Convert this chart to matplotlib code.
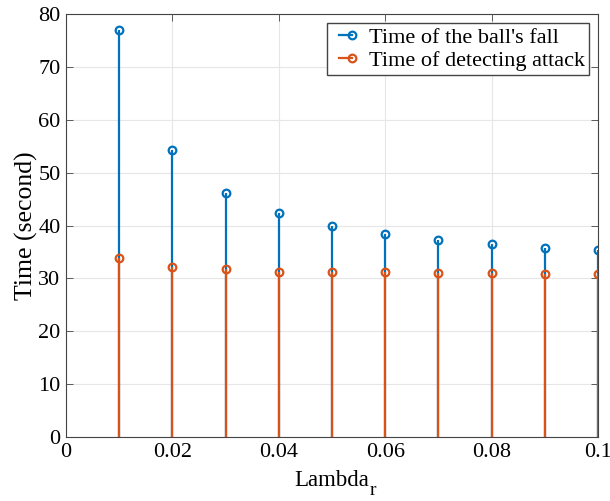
import matplotlib
matplotlib.use('Agg')
import matplotlib.pyplot as plt
from matplotlib.lines import Line2D
from matplotlib.legend_handler import HandlerLine2D

# data
lambda_r = [0.01, 0.02, 0.03, 0.04, 0.05, 0.06, 0.07, 0.08, 0.09, 0.10]
t_fall = [76.9, 54.2, 46.2, 42.4, 39.9, 38.4, 37.2, 36.5, 35.8, 35.3]
t_detect = [33.9, 32.1, 31.8, 31.2, 31.2, 31.2, 31.1, 31.1, 30.9, 30.9]
x_ticks = [0, 0.02, 0.04, 0.06, 0.08, 0.1]
x_ticklabels = ['0', '0.02', '0.04', '0.06', '0.08', '0.1']
y_ticks = [0, 10, 20, 30, 40, 50, 60, 70, 80]
series_names = ["Time of the ball's fall", 'Time of detecting attack']

BLUE = '#0072BD'
ORANGE = '#D95319'
FONT = 'Liberation Serif'


class StemHandler(HandlerLine2D):
    # MATLAB style legend icon: line with the marker only at its right end
    def create_artists(self, legend, orig_handle, xdescent, ydescent,
                       width, height, fontsize, trans):
        arts = super().create_artists(legend, orig_handle, xdescent, ydescent,
                                      width, height, fontsize, trans)
        for a in arts:
            n = len(a.get_xdata())
            a.set_markevery([n - 1])
        return arts


plt.rcParams.update({
    'font.family': FONT,
    'xtick.direction': 'in', 'ytick.direction': 'in',
    'xtick.top': True, 'ytick.right': True,
})

fig = plt.figure(figsize=(6.10, 5.01), dpi=100)
ax = fig.add_axes([0.1082, 0.1277, 0.872, 0.8443])

handles = []
for ys, c in zip((t_fall, t_detect), (BLUE, ORANGE)):
    ml, sl, bl = ax.stem(lambda_r, ys, basefmt=' ')
    plt.setp(sl, color=c, linewidth=1.6)
    plt.setp(ml, color=c, marker='o', markersize=5.5, markerfacecolor='none',
             markeredgewidth=1.6)
    handles.append(Line2D([], [], color=c, linewidth=1.6, marker='o', markersize=5.5,
                          markerfacecolor='none', markeredgewidth=1.6))

ax.set_xlim(0, 0.1)
ax.set_ylim(0, 80)
ax.set_xticks(x_ticks)
ax.set_xticklabels(x_ticklabels)
ax.set_yticks(y_ticks)
ax.tick_params(labelsize=16, length=5, width=0.6, color='#444444', pad=4)
ax.grid(True, color='#e6e6e6', linewidth=0.8)
ax.set_axisbelow(True)
for s in ax.spines.values():
    s.set_linewidth(0.8)
    s.set_color('#444444')

ax.set_ylabel('Time (second)', fontsize=18.5, labelpad=0)
xl = ax.set_xlabel('Lambda', fontsize=16.5, labelpad=6)

ax.legend(handles, series_names, handler_map={Line2D: StemHandler(numpoints=2)},
          loc='upper right', fontsize=16, fancybox=False,
          edgecolor='#444444', framealpha=1, borderpad=0.2, labelspacing=0.1,
          handlelength=1.2, handletextpad=0.45, borderaxespad=0.4)

# subscript r sits well below the baseline, as in MATLAB's tex interpreter
fig.canvas.draw()
bb = xl.get_window_extent()
fig.text(bb.x1, bb.y0 - 8, 'r', fontsize=14, family=FONT,
         ha='left', va='bottom', transform=None)

fig.savefig('out.png', dpi=100)
